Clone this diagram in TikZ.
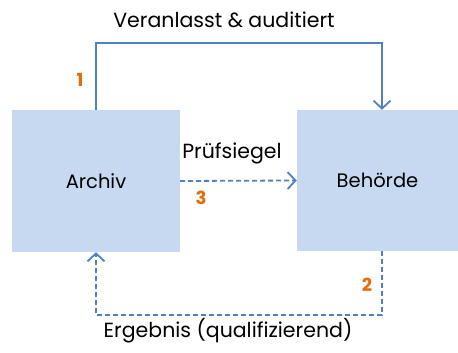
\documentclass[tikz,border=0pt]{standalone}
\usepackage{fontspec}
\setmainfont{Poppins}
\usepackage{tikz}
\usetikzlibrary{arrows.meta}
\definecolor{boxfill}{HTML}{C6D9F1}
\definecolor{linecolor}{HTML}{4F81BD}
\definecolor{numcolor}{HTML}{E46C0A}
\tikzstyle{partybox} = [
    fill=boxfill,
    rectangle,
    font=\fontsize{19.5}{22}\selectfont
    ]
\tikzstyle{link} = [
    draw=linecolor,
    line width=1.8pt,
    -{Straight Barb[length=8pt,width=17pt,line width=1.8pt]}
    ]
\tikzstyle{dashlink} = [
    link,
    dash pattern=on 5pt off 3pt
    ]
\tikzstyle{steplabel} = [
    text=numcolor,
    font=\fontsize{18}{20}\selectfont\bfseries
    ]
\tikzstyle{flowlabel} = [
    font=\fontsize{20.5}{23}\selectfont
    ]

\begin{document}
\begin{tikzpicture}[x=1pt,y=-1pt]
\useasboundingbox (0,0) rectangle (458,353);
\node [partybox, minimum width=168pt, minimum height=142pt] (archiv) at (96,181) {Archiv};
\node [partybox, minimum width=161pt, minimum height=141pt] (behoerde) at (377.5,180.5) {Behörde};

% 1: oben herum
\draw [link] (archiv.north) -- ++(0,-67) -| ([xshift=4.5pt]behoerde.north);
% 2: unten zurueck
\draw [dashlink] ([xshift=4.5pt]behoerde.south) -- ++(0,64) -| (archiv.south);
% 3: direkt
\draw [dashlink] (archiv.east) -- (behoerde.west);

\node [flowlabel] (veranlasst) at (224,20) {Veranlasst \& auditiert};
\node [flowlabel] (ergebnis) at (228,331) {Ergebnis (qualifizierend)};
\node [flowlabel] (siegel) at (232,153) {Prüfsiegel};
\node [steplabel] (eins) at (80,80) {1};
\node [steplabel] (zwei) at (367,285) {2};
\node [steplabel] (drei) at (201,198) {3};
\end{tikzpicture}
\end{document}
